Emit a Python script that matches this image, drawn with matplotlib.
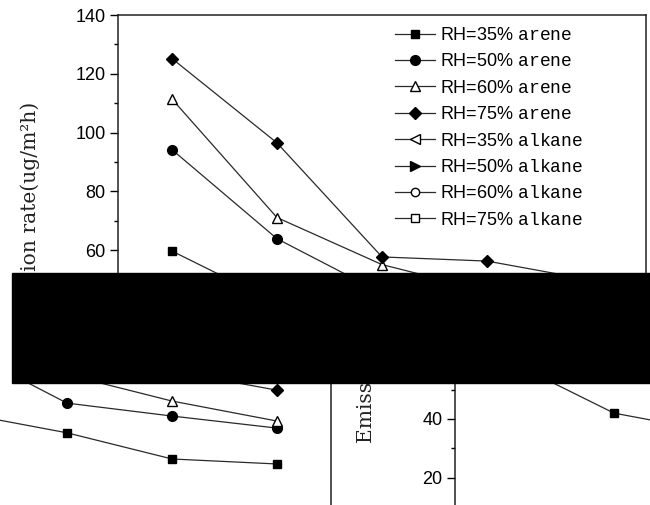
import matplotlib
matplotlib.use('Agg')
import matplotlib.pyplot as plt
from matplotlib.lines import Line2D
from matplotlib.patches import Rectangle
from matplotlib.ticker import MultipleLocator, NullLocator
from matplotlib.transforms import Bbox, TransformedBbox

W, H = 650, 505

# sample index along the x direction (no x tick labels in the picture)
x_points = [1, 2, 3, 4, 5]

arene_35 = [59.7, 42.0, 35.3, 26.4, 24.7]
arene_50 = [94.2, 63.9, 45.4, 41.0, 36.9]
arene_60 = [111.4, 71.1, 55.1, 46.1, 39.3]
arene_75 = [125.2, 96.5, 57.7, 56.3, 49.8]

arene_labels = ['RH=35%', 'RH=50%', 'RH=60%', 'RH=75%']
alkane_labels = ['RH=35%', 'RH=50%', 'RH=60%', 'RH=75%']

y_label = 'Emission rate(ug/m\u00b2h)'

plt.rcParams['font.family'] = 'Liberation Sans'
plt.rcParams['mathtext.fontset'] = 'custom'
plt.rcParams['mathtext.rm'] = 'Liberation Mono'
plt.rcParams['font.size'] = 13

LC = '#2a2a2a'
arene_styles = [
    dict(marker='s', ms=6, mfc='black', mec='black'),
    dict(marker='o', ms=7, mfc='black', mec='black'),
    dict(marker='^', ms=7.5, mfc='white', mec='black'),
    dict(marker='D', ms=6, mfc='black', mec='black'),
]
alkane_styles = [
    dict(marker='<', ms=7.5, mfc='white', mec='black'),
    dict(marker='>', ms=7.5, mfc='black', mec='black'),
    dict(marker='o', ms=6, mfc='white', mec='black'),
    dict(marker='s', ms=5.5, mfc='white', mec='black'),
]


def box(x0, y0, x1, y1):
    # pixel box, origin top-left -> figure rect
    return [x0 / W, 1 - y1 / H, (x1 - x0) / W, (y1 - y0) / H]


def draw_series(ax):
    lines = []
    for vals, st in zip([arene_35, arene_50, arene_60, arene_75], arene_styles):
        ln, = ax.plot(x_points, vals, color=LC, lw=0.9, **st)
        lines.append(ln)
    return lines


def style_axis(ax, show):
    for side in ['left', 'right', 'top', 'bottom']:
        ax.spines[side].set_visible(side in show)
        ax.spines[side].set_linewidth(1.1)
        ax.spines[side].set_color('#222222')
    ax.xaxis.set_major_locator(NullLocator())
    ax.xaxis.set_minor_locator(NullLocator())
    ax.patch.set_alpha(0)


fig = plt.figure(figsize=(6.5, 5.05), dpi=100)

# upper piece
axA = fig.add_axes(box(118, 15, 646, 273))
lines = draw_series(axA)
axA.set_xlim(0.486, 5.514)
axA.set_ylim(52.24, 140)
style_axis(axA, ['left', 'top', 'right'])
axA.yaxis.set_major_locator(MultipleLocator(20))
axA.yaxis.set_minor_locator(MultipleLocator(10))
axA.tick_params(axis='y', which='major', direction='out', length=6, width=1, labelsize=13, pad=3)
axA.tick_params(axis='y', which='minor', direction='out', length=3, width=1)

handles = list(lines)
for st in alkane_styles:
    handles.append(Line2D([], [], color=LC, lw=0.9, **st))
labels = [l + r' $\mathrm{arene}$' for l in arene_labels] + \
         [l + r' $\mathrm{alkane}$' for l in alkane_labels]
axA.legend(handles, labels, loc='upper left', bbox_to_anchor=(395 / W, 1 - 27 / H),
           bbox_transform=fig.transFigure, frameon=False, fontsize=13,
           handlelength=2.2, handletextpad=0.3, labelspacing=0.52, borderpad=0,
           borderaxespad=0)

fig.text(30 / W, 1 - 102 / H, y_label, rotation=90, ha='center', va='top',
         family='DejaVu Serif', fontsize=14.6, color='#222222')

# lower left piece
axB = fig.add_axes(box(0, 383, 331, 505))
draw_series(axB)
axB.set_xlim(2.362, 5.514)
axB.set_ylim(10.75, 52.24)
style_axis(axB, ['right'])
axB.yaxis.set_major_locator(NullLocator())
axB.yaxis.set_minor_locator(NullLocator())

# lower right piece
axC = fig.add_axes(box(455, 383, 650, 505))
draw_series(axC)
axC.set_xlim(0.486, 2.343)
axC.set_ylim(10.75, 52.24)
style_axis(axC, ['left'])
axC.yaxis.set_major_locator(MultipleLocator(20))
axC.yaxis.set_minor_locator(MultipleLocator(10))
axC.tick_params(axis='y', which='major', direction='out', length=6, width=1, labelsize=13, pad=3)
axC.tick_params(axis='y', which='minor', direction='out', length=3, width=1)

t = fig.text(366 / W, 1 - 443 / H, y_label, rotation=90, ha='center', va='bottom',
             family='DejaVu Serif', fontsize=14.6, color='#222222')
t.set_clip_box(TransformedBbox(Bbox.from_extents(333 / W, 0, 1, 1 - 383 / H), fig.transFigure))
t.set_clip_on(True)

fig.add_artist(Rectangle((12 / W, 1 - 383 / H), (W - 12) / W, 110 / H,
                         transform=fig.transFigure, color='black', zorder=10))

fig.savefig('out.png', dpi=100)
